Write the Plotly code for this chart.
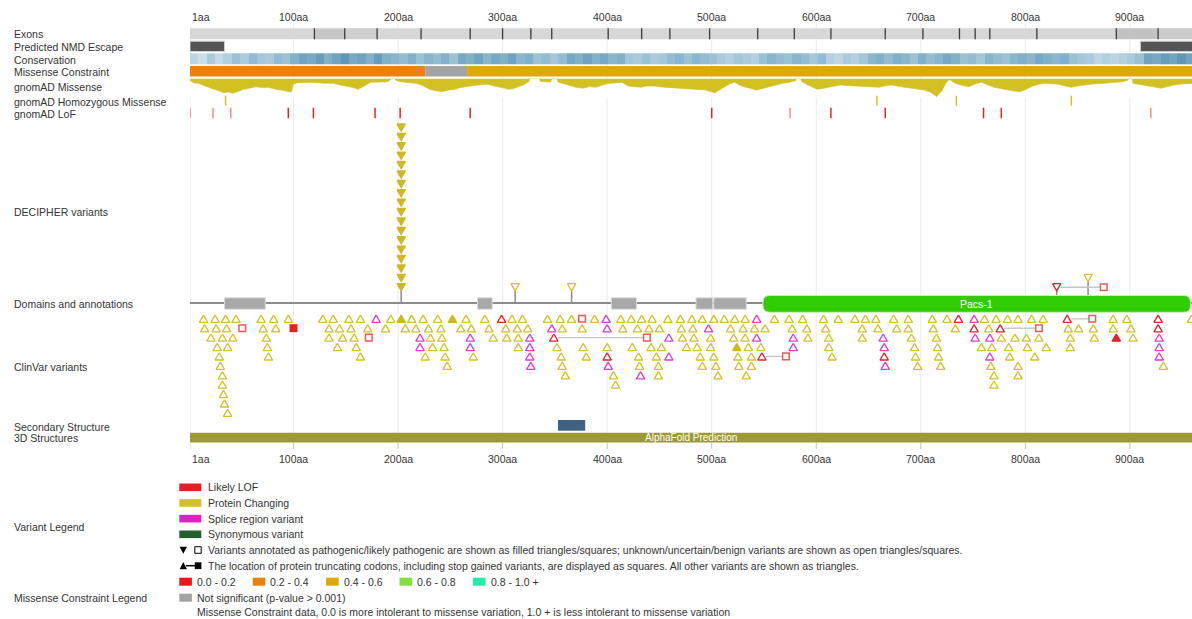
import plotly.graph_objects as go

# ======================= DATA =======================
protein_length = 963
tick_positions = [1, 100, 200, 300, 400, 500, 600, 700, 800, 900]
tick_labels = ["1aa", "100aa", "200aa", "300aa", "400aa", "500aa", "600aa", "700aa", "800aa", "900aa"]

track_names = ["Exons", "Predicted NMD Escape", "Conservation", "Missense Constraint", "gnomAD Missense",
               "gnomAD Homozygous Missense", "gnomAD LoF", "DECIPHER variants", "Domains and annotations",
               "ClinVar variants", "Secondary Structure", "3D Structures", "Variant Legend",
               "Missense Constraint Legend"]

exon_boundaries = [120, 149, 180, 222, 269, 300, 327, 347, 401, 433, 460, 498, 544, 579, 614, 666,
                   702, 737, 752, 766, 811, 887, 927]

nmd_escape_start = [1, 910]
nmd_escape_end = [34, 963]

conservation_bin_size = 8
conservation_scores = [
    0.25, 0.15, 0.35, 0.20, 0.30, 0.45, 0.35, 0.50, 0.40, 0.35, 0.50, 0.45, 0.60, 0.70, 0.65, 0.75,
    0.60, 0.70, 0.80, 0.65, 0.70, 0.60, 0.75, 0.60, 0.55, 0.50, 0.60, 0.45, 0.55, 0.50, 0.60, 0.45,
    0.65, 0.60, 0.70, 0.55, 0.65, 0.60, 0.70, 0.55, 0.60, 0.45, 0.50, 0.40, 0.50, 0.65, 0.60, 0.70,
    0.60, 0.65, 0.55, 0.60, 0.40, 0.35, 0.45, 0.35, 0.40, 0.50, 0.55, 0.45, 0.55, 0.50, 0.45, 0.35,
    0.30, 0.40, 0.35, 0.30, 0.45, 0.55, 0.50, 0.45, 0.55, 0.50, 0.40, 0.50, 0.30, 0.25, 0.35, 0.30,
    0.40, 0.55, 0.60, 0.50, 0.60, 0.55, 0.45, 0.60, 0.50, 0.55, 0.65, 0.60, 0.45, 0.50, 0.40, 0.55,
    0.50, 0.45, 0.55, 0.60, 0.55, 0.65, 0.60, 0.55, 0.60, 0.45, 0.40, 0.35, 0.25, 0.30, 0.25, 0.30,
    0.35, 0.45, 0.70, 0.65, 0.75, 0.70, 0.80, 0.70]

missense_constraint_start = [1, 226, 266]
missense_constraint_end = [226, 266, 963]
missense_constraint_class = ["0.2 - 0.4", "not significant", "0.4 - 0.6"]

gnomad_missense_pos = [
    1, 5, 9, 14, 21, 27, 33, 38, 42, 47, 52, 57, 64, 70, 76, 82, 88, 93, 98, 100, 104, 110, 119, 128,
    138, 146, 156, 162, 168, 174, 183, 190, 193, 194, 197, 198, 202, 210, 217, 224, 230, 236, 242, 248,
    254, 260, 267, 275, 285, 291, 297, 302, 306, 311, 316, 320, 325, 326, 335, 336, 340, 346, 347, 352,
    353, 358, 365, 371, 377, 383, 389, 395, 402, 408, 414, 420, 426, 432, 438, 445, 454, 463, 472, 482,
    488, 494, 503, 508, 512, 517, 522, 526, 531, 537, 543, 549, 555, 561, 568, 574, 580, 581, 585, 586,
    589, 595, 601, 606, 611, 616, 623, 632, 641, 650, 660, 665, 672, 680, 690, 696, 703, 709, 715, 720,
    724, 727, 730, 733, 739, 746, 752, 758, 764, 770, 776, 783, 789, 795, 801, 807, 813, 819, 825, 832,
    838, 844, 850, 856, 865, 875, 884, 893, 898, 899, 902, 903, 911, 918, 924, 930, 936, 942, 950, 960]
gnomad_missense_val = [
    0.12, 0.25, 0.27, 0.40, 0.54, 0.65, 0.79, 0.75, 0.82, 0.72, 0.60, 0.55, 0.46, 0.50, 0.49, 0.58,
    0.64, 0.70, 0.75, 0.30, 0.23, 0.22, 0.21, 0.26, 0.27, 0.38, 0.49, 0.60, 0.40, 0.21, 0.20, 0.18,
    0.05, 0.00, 0.00, 0.10, 0.18, 0.22, 0.27, 0.40, 0.60, 0.68, 0.73, 0.65, 0.60, 0.50, 0.42, 0.37,
    0.32, 0.40, 0.46, 0.55, 0.60, 0.55, 0.46, 0.35, 0.18, 0.00, 0.00, 0.15, 0.18, 0.20, 0.00, 0.00,
    0.20, 0.30, 0.40, 0.50, 0.54, 0.45, 0.49, 0.38, 0.27, 0.25, 0.21, 0.42, 0.45, 0.49, 0.42, 0.42,
    0.48, 0.51, 0.55, 0.60, 0.62, 0.64, 0.79, 0.60, 0.49, 0.30, 0.21, 0.35, 0.46, 0.55, 0.64, 0.55,
    0.46, 0.35, 0.27, 0.22, 0.12, 0.00, 0.00, 0.15, 0.27, 0.45, 0.60, 0.55, 0.49, 0.42, 0.36, 0.40,
    0.42, 0.46, 0.49, 0.42, 0.36, 0.45, 0.54, 0.58, 0.64, 0.75, 1.00, 0.70, 0.27, 0.05, 0.15, 0.27,
    0.38, 0.46, 0.30, 0.21, 0.35, 0.49, 0.55, 0.64, 0.70, 0.73, 0.60, 0.42, 0.32, 0.27, 0.30, 0.32,
    0.42, 0.49, 0.42, 0.36, 0.30, 0.27, 0.22, 0.18, 0.10, 0.00, 0.00, 0.27, 0.35, 0.42, 0.50, 0.54,
    0.45, 0.36, 0.30, 0.27]

gnomad_hom_missense = [35, 658, 734, 844]
gnomad_lof_pos = [1, 23, 40, 95, 119, 178, 202, 269, 500, 575, 614, 666, 760, 777, 920]
gnomad_lof_count = [1, 1, 1, 2, 2, 2, 2, 2, 2, 1, 2, 2, 2, 2, 1]

domain_start = [34, 276, 404, 485, 502, 549]
domain_end = [73, 290, 428, 501, 533, 958]
domain_name = ["", "", "", "", "", "Pacs-1"]

secondary_start = [353]
secondary_end = [379]
structure_start = [1]
structure_end = [963]
structure_name = ["AlphaFold Prediction"]

# DECIPHER variants (shown above the protein line)
decipher_pc_path = [203, 203, 203, 203, 203, 203, 203, 203, 203, 203, 203, 203, 203, 203, 203, 203, 203, 203]
decipher_pc = [312, 366, 860]
decipher_fs_start = [830]
decipher_fs_stop = [875]

# ClinVar variants (shown below the protein line)
clinvar_pc = [
    14, 15, 21, 25, 26, 27, 29, 30, 32, 32, 32, 33, 34, 35, 36, 37, 37, 42, 45, 69, 71, 74, 75, 76, 81,
    83, 95, 128, 134, 134, 138, 142, 144, 147, 153, 155, 158, 160, 164, 164, 171, 188, 193, 207, 213,
    217, 224, 226, 229, 231, 233, 238, 241, 242, 244, 245, 247,
    260, 265, 270, 272, 283, 287, 291, 303, 304, 309, 314, 315, 315, 319, 324, 343, 352, 355, 356, 357,
    357, 360, 366, 376, 377, 380, 388, 400, 406, 408, 413, 415, 423, 424, 429, 430, 431, 433, 440, 442,
    443, 447, 449, 449, 450, 452, 458, 470, 471, 472, 476, 481, 482, 483,
    486, 489, 491, 491, 499, 499, 502, 502, 504, 506, 512, 518, 521, 522, 525, 526, 530, 532, 532, 533,
    535, 538, 538, 541, 547, 551, 560, 574, 577, 587, 591, 592, 607, 609, 612, 612, 615, 621, 637, 644,
    644, 647, 657, 659, 674, 677, 688, 688, 691, 694, 695, 697, 711, 712, 715, 716, 717, 719, 725,
    733, 758, 761, 765, 767, 768, 770, 770, 772, 777, 783, 784, 785, 790, 793, 793, 793, 801, 802, 806,
    809, 813, 817, 820, 841, 843, 843, 851, 865, 866, 884, 884, 897, 901, 903, 932, 959]
clinvar_pc_path = [203, 252, 524]
clinvar_splice = [179, 221, 221, 269, 269, 326, 326, 326, 327, 347, 399, 400, 401, 432, 459, 459, 497,
                  543, 543, 578, 578, 664, 665, 666, 751, 752, 766, 766, 928, 928, 928]
clinvar_lof = [299, 400, 665, 736, 751, 927, 927]
clinvar_lof_path = [887]
clinvar_stop = [51, 172, 376]
clinvar_stop_path = [100]
clinvar_fs_start = [349, 548, 776, 840]
clinvar_fs_stop = [438, 571, 813, 864]

legend_variant_labels = ["Likely LOF", "Protein Changing", "Splice region variant", "Synonymous variant"]
legend_note_1 = ("Variants annotated as pathogenic/likely pathogenic are shown as filled triangles/squares; "
                 "unknown/uncertain/benign variants are shown as open triangles/squares.")
legend_note_2 = ("The location of protein truncating codons, including stop gained variants, are displayed "
                 "as squares. All other variants are shown as triangles.")
legend_constraint_labels = ["0.0 - 0.2", "0.2 - 0.4", "0.4 - 0.6", "0.6 - 0.8", "0.8 - 1.0 +"]
legend_ns_label = "Not significant (p-value > 0.001)"
legend_note_3 = ("Missense Constraint data, 0.0 is more intolerant to missense variation, "
                 "1.0 + is less intolerant to missense variation")

# ======================= LAYOUT / STYLE =======================
W, H = 1192, 619
LEFT = 190
X_RANGE = [1, 959.4]
PXA = (W - LEFT) / (X_RANGE[1] - X_RANGE[0])   # pixels per amino acid
FONT = "Liberation Sans, Arial, Helvetica, sans-serif"
TEXT = "#333333"
FS = 10.5

YELLOW = "#d4c12c"
YELLOW_F = "#cdb925"
MAGENTA = "#e03ccf"
RED = "#e4222c"
SQ_RED = "#ee5a5a"
GREY_LINE = "#8c8c8c"

constraint_colors = {"0.0 - 0.2": "#f01414", "0.2 - 0.4": "#e9820c", "0.4 - 0.6": "#e0a70b",
                     "0.6 - 0.8": "#84e03c", "0.8 - 1.0 +": "#22eea2", "not significant": "#a3a3a3"}
variant_legend_colors = ["#e31e24", "#d4c12a", "#e21fc4", "#25602a"]

label_y = [34.3, 47.3, 59.8, 72.3, 87.3, 101.5, 114.3, 212.3, 304.3, 367.3, 426.5, 438.3, 527.3, 598.3]

MIN_GAP = 10      # aa: minimum spacing of variants in a lane
TRUNC_PAD = 8     # aa: extra space reserved after a truncation stop square
LOWER_Y0, UPPER_Y0, LANE = 318.8, 287.3, 9.4
LINE_Y = 303
HW = 4.2 / PXA    # triangle half width (aa)
TH = 3.6          # triangle half height (px)

shapes, annots = [], []


def px(xpix):
    return xpix / W


def rect(x0, x1, y0, y1, color, xref="x", line=None, layer="above"):
    shapes.append(dict(type="rect", xref=xref, yref="y", x0=x0, x1=x1, y0=y0, y1=y1,
                       fillcolor=color, line=line or dict(width=0), layer=layer))


def vline(x, y0, y1, color, width=1.0, layer="above", xref="x"):
    shapes.append(dict(type="line", xref=xref, yref="y", x0=x, x1=x, y0=y0, y1=y1,
                       line=dict(color=color, width=width), layer=layer))


def text(x, y, s, xref="paper", anchor="left", size=FS, color=TEXT):
    annots.append(dict(x=x, y=y, xref=xref, yref="y", text=s, showarrow=False, xanchor=anchor,
                       yanchor="middle", font=dict(family=FONT, size=size, color=color)))


# ---- grid + axis labels ----
for t, lab in zip(tick_positions, tick_labels):
    vline(t, 24, 443, "#ececec", 1, layer="below")
    vline(t, 443, 449, "#c4c4c4", 1)
    anchor = "left" if t == tick_positions[0] else "center"
    text(t, 17.3, lab, xref="x", anchor=anchor)
    text(t, 459.3, lab, xref="x", anchor=anchor)

# ---- left labels ----
for name, y in zip(track_names, label_y):
    text(px(12), y, name)

# ---- exons ----
exon_edges = [1] + exon_boundaries + [protein_length]
exon_dark = {1: "#c6c6c6", 2: "#cecece", 22: "#c2c2c2", 23: "#cbcbcb"}
for i in range(len(exon_edges) - 1):
    rect(exon_edges[i], exon_edges[i + 1], 28.3, 39.3, exon_dark.get(i, "#d7d7d7"))
for b in exon_boundaries:
    vline(b, 28.3, 39.3, "#3a3a3a", 1.3)

# ---- NMD escape ----
for s, e in zip(nmd_escape_start, nmd_escape_end):
    rect(s, e, 41.2, 51.5, "#555555", line=dict(color="#cfcfcf", width=1))

# ---- missense constraint ----
for s, e, c in zip(missense_constraint_start, missense_constraint_end, missense_constraint_class):
    rect(s, e, 66.0, 76.5, constraint_colors[c])

# ---- gnomAD homozygous + LoF ----
for p in gnomad_hom_missense:
    vline(p, 95.7, 105.7, YELLOW, 1.5)
for p, c in zip(gnomad_lof_pos, gnomad_lof_count):
    vline(p, 107.7, 118.3, "#e3262b" if c > 1 else "#f08c8c", 1.5)

# ---- domains ----
shapes.append(dict(type="line", xref="x", yref="y", x0=X_RANGE[0], x1=X_RANGE[1], y0=LINE_Y, y1=LINE_Y,
                   line=dict(color=GREY_LINE, width=2)))


def rounded(x0, x1, y0, y1, r):
    rx = r / PXA
    return (f"M{x0 + rx},{y0} L{x1 - rx},{y0} Q{x1},{y0} {x1},{y0 + r} L{x1},{y1 - r} "
            f"Q{x1},{y1} {x1 - rx},{y1} L{x0 + rx},{y1} Q{x0},{y1} {x0},{y1 - r} "
            f"L{x0},{y0 + r} Q{x0},{y0} {x0 + rx},{y0} Z")


for s, e, n in zip(domain_start, domain_end, domain_name):
    if n:
        shapes.append(dict(type="path", xref="x", yref="y", path=rounded(s, e, 295.5, 312.3, 7),
                           fillcolor="#30cc06", line=dict(color="#c8f0b8", width=1)))
        text((s + e) / 2, 303.8, n, xref="x", anchor="center", color="white")
    else:
        rect(s, e, 297.8, 309.2, "#a8a8a8", line=dict(color="#dadada", width=1))

# ---- secondary structure / 3D ----
for s, e in zip(secondary_start, secondary_end):
    rect(s, e, 420.0, 430.7, "#3e6184")
for s, e, n in zip(structure_start, structure_end, structure_name):
    rect(s, e, 432.7, 442.6, "#9d9a33")
    text((X_RANGE[0] + min(e, X_RANGE[1])) / 2, 437.9, n, xref="x", anchor="center", size=10, color="white")

# ======================= variant packing =======================
KIND_ORDER = {"splice": 0, "stop": 1, "pc": 2, "lof": 3, "fs": 4}


def make_items(groups):
    items = []
    for kind, filled, positions, stops in groups:
        for i, p in enumerate(positions):
            items.append(dict(pos=p, kind=kind, filled=filled, stop=stops[i] if stops else None))
    items.sort(key=lambda d: (d["pos"], KIND_ORDER[d["kind"]]))
    ends = []
    for it in items:
        end = it["stop"] + TRUNC_PAD if it["kind"] == "fs" else it["pos"]
        for k, e in enumerate(ends):
            if it["pos"] - e >= MIN_GAP:
                ends[k] = end
                it["lane"] = k
                break
        else:
            ends.append(end)
            it["lane"] = len(ends) - 1
    return items


clinvar_items = make_items([
    ("splice", False, clinvar_splice, None), ("stop", False, clinvar_stop, None),
    ("stop", True, clinvar_stop_path, None), ("pc", False, clinvar_pc, None),
    ("pc", True, clinvar_pc_path, None), ("lof", False, clinvar_lof, None),
    ("lof", True, clinvar_lof_path, None), ("fs", False, clinvar_fs_start, clinvar_fs_stop)])
decipher_items = make_items([
    ("pc", True, decipher_pc_path, None), ("pc", False, decipher_pc, None),
    ("fs", False, decipher_fs_start, decipher_fs_stop)])

KIND_COLOR = {"splice": MAGENTA, "pc": YELLOW, "lof": RED, "fs": RED}
tri = {}
sq_open = ([], [])
sq_fill = ([], [])
conn = ([], [])
stems = ([], [])


def add_tri(key, x, yc, up):
    xs, ys = tri.setdefault(key, ([], []))
    if up:
        xs += [x, x - HW, x + HW, x, None]
        ys += [yc - TH, yc + TH, yc + TH, yc - TH, None]
    else:
        xs += [x - HW, x + HW, x, x - HW, None]
        ys += [yc - TH, yc - TH, yc + TH, yc - TH, None]


for items, up in ((clinvar_items, True), (decipher_items, False)):
    lowest = {}
    for it in items:
        yc = LOWER_Y0 + LANE * it["lane"] if up else UPPER_Y0 - LANE * it["lane"]
        if it["kind"] == "stop":
            tgt = sq_fill if it["filled"] else sq_open
            tgt[0].append(it["pos"])
            tgt[1].append(yc)
            continue
        add_tri((KIND_COLOR[it["kind"]], it["filled"]), it["pos"], yc, up)
        if it["kind"] == "fs":
            conn[0].extend([it["pos"] + HW, it["stop"] - 4 / PXA, None])
            conn[1].extend([yc, yc, None])
            sq_open[0].append(it["stop"])
            sq_open[1].append(yc)
        if not up:
            lowest[it["pos"]] = max(lowest.get(it["pos"], 0), yc)
    for p, yc in lowest.items():
        stems[0].extend([p, p, None])
        stems[1].extend([yc + TH, LINE_Y, None])

# ======================= traces =======================
fig = go.Figure()

edges = [1 + conservation_bin_size * i for i in range(len(conservation_scores) + 1)]
fig.add_trace(go.Heatmap(z=[conservation_scores], x=edges, y=[53.3, 64.5], zmin=0, zmax=1,
                         colorscale=[[0, "#e3eef4"], [0.5, "#93bcd2"], [1, "#3a7ea4"]],
                         showscale=False, hoverinfo="skip"))

fig.add_trace(go.Scatter(x=gnomad_missense_pos, y=gnomad_missense_val, yaxis="y2", mode="lines",
                         fill="tozeroy", fillcolor="#d3c124", line=dict(width=0.6, color="#d3c124"),
                         hoverinfo="skip"))

fig.add_trace(go.Scatter(x=stems[0], y=stems[1], mode="lines", line=dict(color=GREY_LINE, width=1.5),
                         hoverinfo="skip"))
fig.add_trace(go.Scatter(x=conn[0], y=conn[1], mode="lines", line=dict(color="#c6c6c6", width=1.4),
                         hoverinfo="skip"))

for (color, filled), (xs, ys) in tri.items():
    fc = YELLOW_F if color == YELLOW else color
    fig.add_trace(go.Scatter(x=xs, y=ys, mode="lines", line=dict(color=fc if filled else color, width=1.3),
                             fill="toself" if filled else None, fillcolor=fc if filled else None,
                             hoverinfo="skip"))

fig.add_trace(go.Scatter(x=sq_open[0], y=sq_open[1], mode="markers", hoverinfo="skip",
                         marker=dict(symbol="square-open", size=6.6, color=SQ_RED, line=dict(width=1.5))))
fig.add_trace(go.Scatter(x=sq_fill[0], y=sq_fill[1], mode="markers", hoverinfo="skip",
                         marker=dict(symbol="square", size=8, color=RED, line=dict(width=0))))

# ======================= legend block =======================
for i, (lab, col) in enumerate(zip(legend_variant_labels, variant_legend_colors)):
    y = 487.3 + 15.67 * i
    shapes.append(dict(type="rect", xref="paper", yref="y", x0=px(179.3), x1=px(201.3), y0=y - 3.8,
                       y1=y + 3.8, fillcolor=col, line=dict(width=0)))
    text(px(206), y, lab)

y1 = 550.0
shapes.append(dict(type="path", xref="paper", yref="y",
                   path=f"M{px(179.6)},{y1 - 3.3} L{px(187)},{y1 - 3.3} L{px(183.3)},{y1 + 3.8} Z",
                   fillcolor="black", line=dict(width=0)))
shapes.append(dict(type="rect", xref="paper", yref="y", x0=px(194.8), x1=px(201.2), y0=y1 - 3.3,
                   y1=y1 + 3.3, line=dict(color="black", width=1)))
text(px(206), y1, legend_note_1)

y2 = 565.7
shapes.append(dict(type="path", xref="paper", yref="y",
                   path=f"M{px(179.6)},{y2 + 3.5} L{px(187)},{y2 + 3.5} L{px(183.3)},{y2 - 3.6} Z",
                   fillcolor="black", line=dict(width=0)))
shapes.append(dict(type="line", xref="paper", yref="y", x0=px(186), x1=px(195), y0=y2, y1=y2,
                   line=dict(color="black", width=1.5)))
shapes.append(dict(type="rect", xref="paper", yref="y", x0=px(194.8), x1=px(201.4), y0=y2 - 3.4,
                   y1=y2 + 3.4, fillcolor="black", line=dict(width=0)))
text(px(206), y2, legend_note_2)

y3 = 581.7
for i, lab in enumerate(legend_constraint_labels):
    x0 = 179.3 + 73.4 * i
    shapes.append(dict(type="rect", xref="paper", yref="y", x0=px(x0), x1=px(x0 + 12.6), y0=y3 - 4,
                       y1=y3 + 4, fillcolor=constraint_colors[lab], line=dict(width=0)))
    text(px(x0 + 15.7), y3, lab)

y4 = 597.7
shapes.append(dict(type="rect", xref="paper", yref="y", x0=px(179.3), x1=px(191.9), y0=y4 - 4, y1=y4 + 4,
                   fillcolor=constraint_colors["not significant"], line=dict(width=0)))
text(px(195), y4, legend_ns_label)
text(px(195), 612.3, legend_note_3)

# ======================= layout =======================
fig.update_layout(
    width=W, height=H, margin=dict(l=0, r=0, t=0, b=0, pad=0),
    paper_bgcolor="white", plot_bgcolor="white", showlegend=False,
    xaxis=dict(domain=[LEFT / W, 1], range=X_RANGE, visible=False, fixedrange=True),
    yaxis=dict(domain=[0, 1], range=[H, 0], visible=False, fixedrange=True),
    yaxis2=dict(domain=[1 - (78.5 + 1.05 * 18) / H, 1 - 78.5 / H], range=[1.05, 0], visible=False,
                anchor="x", fixedrange=True),
    shapes=shapes, annotations=annots,
)

fig.write_html("out.html", config={"displayModeBar": False},
               post_script="document.body.style.margin='0';")
